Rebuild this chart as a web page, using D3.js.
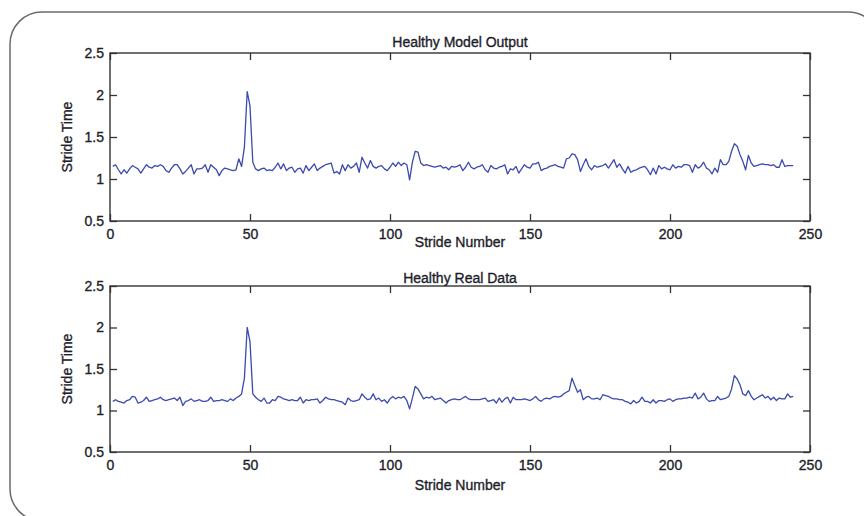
<!DOCTYPE html>
<html>
<head>
<meta charset="utf-8">
<script src="https://cdn.jsdelivr.net/npm/d3@7"></script>
<style>
  body { margin: 0; background: #fff; }
  svg { display: block; font-family: "Liberation Sans", Arial, sans-serif; }
</style>
</head>
<body>
<svg width="864" height="516"></svg>
<script>
// stride time per stride (stride numbers start at 1)
var modelOutput = [
  1.15,1.17,1.11,1.06,1.11,1.07,1.12,1.16,1.14,1.12,
  1.07,1.12,1.17,1.14,1.13,1.16,1.15,1.17,1.15,1.10,
  1.08,1.13,1.17,1.17,1.12,1.06,1.09,1.13,1.17,1.06,
  1.12,1.12,1.13,1.17,1.08,1.17,1.14,1.11,1.04,1.10,
  1.13,1.12,1.11,1.10,1.11,1.24,1.15,1.38,2.04,1.87,
  1.20,1.12,1.10,1.12,1.13,1.10,1.11,1.10,1.14,1.19,
  1.12,1.18,1.10,1.13,1.14,1.08,1.12,1.13,1.07,1.16,
  1.10,1.14,1.18,1.10,1.13,1.15,1.17,1.18,1.19,1.07,
  1.09,1.06,1.17,1.10,1.17,1.13,1.15,1.19,1.08,1.26,
  1.19,1.13,1.22,1.15,1.13,1.15,1.16,1.12,1.10,1.14,
  1.19,1.15,1.20,1.16,1.19,1.17,0.99,1.20,1.33,1.32,
  1.19,1.16,1.17,1.16,1.15,1.14,1.15,1.16,1.13,1.14,
  1.11,1.15,1.14,1.15,1.17,1.10,1.14,1.20,1.14,1.12,
  1.14,1.15,1.17,1.11,1.08,1.16,1.13,1.12,1.14,1.15,
  1.17,1.06,1.12,1.11,1.15,1.07,1.12,1.17,1.14,1.13,
  1.18,1.18,1.20,1.10,1.12,1.13,1.15,1.16,1.17,1.15,
  1.14,1.13,1.24,1.25,1.30,1.29,1.23,1.09,1.17,1.24,
  1.15,1.11,1.16,1.14,1.15,1.16,1.18,1.13,1.18,1.23,
  1.14,1.18,1.12,1.07,1.15,1.08,1.10,1.11,1.13,1.14,
  1.15,1.11,1.05,1.13,1.06,1.16,1.12,1.14,1.12,1.11,
  1.17,1.13,1.15,1.14,1.17,1.17,1.16,1.08,1.17,1.13,
  1.15,1.20,1.13,1.11,1.06,1.13,1.08,1.23,1.17,1.17,
  1.21,1.33,1.42,1.39,1.29,1.21,1.11,1.28,1.19,1.15,
  1.16,1.17,1.18,1.17,1.17,1.16,1.17,1.14,1.14,1.23,
  1.15,1.16,1.16,1.16
];

var realData = [
  1.11,1.13,1.11,1.10,1.09,1.12,1.13,1.17,1.16,1.09,
  1.10,1.12,1.16,1.11,1.12,1.13,1.14,1.16,1.13,1.12,
  1.13,1.14,1.15,1.12,1.16,1.06,1.11,1.12,1.14,1.11,
  1.12,1.13,1.11,1.11,1.12,1.16,1.11,1.12,1.12,1.13,
  1.12,1.11,1.14,1.12,1.15,1.17,1.20,1.39,2.00,1.83,
  1.20,1.16,1.13,1.11,1.15,1.09,1.09,1.13,1.12,1.17,
  1.16,1.14,1.13,1.12,1.13,1.12,1.12,1.16,1.09,1.13,
  1.12,1.13,1.13,1.14,1.09,1.12,1.16,1.14,1.13,1.13,
  1.12,1.11,1.10,1.07,1.15,1.12,1.11,1.12,1.13,1.20,
  1.16,1.13,1.14,1.20,1.13,1.15,1.11,1.13,1.09,1.14,
  1.17,1.14,1.16,1.15,1.17,1.12,1.02,1.15,1.29,1.26,
  1.20,1.14,1.16,1.15,1.17,1.13,1.14,1.15,1.12,1.09,
  1.12,1.13,1.14,1.13,1.13,1.15,1.17,1.14,1.13,1.13,
  1.13,1.13,1.14,1.15,1.11,1.12,1.13,1.09,1.15,1.10,
  1.14,1.16,1.09,1.16,1.13,1.13,1.13,1.14,1.13,1.12,
  1.14,1.17,1.13,1.11,1.14,1.15,1.14,1.16,1.17,1.16,
  1.17,1.20,1.22,1.24,1.39,1.30,1.22,1.25,1.13,1.16,
  1.17,1.14,1.14,1.15,1.13,1.19,1.18,1.17,1.15,1.14,
  1.14,1.13,1.13,1.11,1.10,1.08,1.12,1.09,1.11,1.16,
  1.11,1.11,1.09,1.13,1.09,1.12,1.12,1.11,1.13,1.14,
  1.11,1.13,1.14,1.14,1.15,1.15,1.16,1.15,1.21,1.14,
  1.16,1.21,1.14,1.11,1.12,1.12,1.17,1.13,1.14,1.15,
  1.17,1.26,1.42,1.38,1.31,1.20,1.18,1.24,1.17,1.13,
  1.15,1.17,1.19,1.15,1.17,1.13,1.16,1.12,1.15,1.14,
  1.14,1.20,1.16,1.17
];

var xTicks = [0, 50, 100, 150, 200, 250];
var yTicks = [0.5, 1, 1.5, 2, 2.5];
var titles = ["Healthy Model Output", "Healthy Real Data"];
var xLabel = "Stride Number";
var yLabel = "Stride Time";

var svg = d3.select("svg");

// rounded frame around the figure
svg.append("rect")
    .attr("x", 10).attr("y", 12)
    .attr("width", 870).attr("height", 509)
    .attr("rx", 32).attr("ry", 32)
    .attr("fill", "none")
    .attr("stroke", "#6b6b6b")
    .attr("stroke-width", 1.5);

var panels = [
  {values: modelOutput, title: titles[0], top: 53, bottom: 221, titleY: 47, xlabY: 247},
  {values: realData, title: titles[1], top: 286, bottom: 452, titleY: 283, xlabY: 490}
];

var left = 110, right = 810;
var x = d3.scaleLinear().domain([0, 250]).range([left, right]);

// slightly heavier text, like the scanned figure
function styleText(sel) {
    sel.attr("font-size", 14).attr("fill", "#1e1e2a")
        .attr("stroke", "#1e1e2a").attr("stroke-width", 0.35)
        .attr("font-family", "'Liberation Sans', Arial, sans-serif");
}

panels.forEach(function(p) {
    var y = d3.scaleLinear().domain([0.5, 2.5]).range([p.bottom, p.top]);
    var g = svg.append("g");

    //ticks + labels
    var xAxis = d3.axisBottom(x).tickValues(xTicks).tickSize(-7).tickSizeOuter(0).tickPadding(8);
    var xTop = d3.axisTop(x).tickValues(xTicks).tickSize(-7).tickSizeOuter(0).tickFormat("");
    var yAxis = d3.axisLeft(y).tickValues(yTicks).tickSize(-7).tickSizeOuter(0).tickPadding(6)
        .tickFormat(function(d) { return d3.format("")(d); });
    var yRight = d3.axisRight(y).tickValues(yTicks).tickSize(-7).tickSizeOuter(0).tickFormat("");

    [[xAxis, "translate(0," + p.bottom + ")"],
     [xTop, "translate(0," + p.top + ")"],
     [yAxis, "translate(" + left + ",0)"],
     [yRight, "translate(" + right + ",0)"]].forEach(function(a) {
        var ax = g.append("g").attr("transform", a[1]).call(a[0]);
        ax.select(".domain").remove();
        ax.selectAll("line").attr("stroke", "#333").attr("stroke-width", 1.3);
        ax.selectAll("text").call(styleText);
    });

    g.append("rect")
        .attr("x", left).attr("y", p.top)
        .attr("width", right - left).attr("height", p.bottom - p.top)
        .attr("fill", "none")
        .attr("stroke", "#333")
        .attr("stroke-width", 1.4);

    var line = d3.line()
        .x(function(d, i) { return x(i + 1); })
        .y(function(d) { return y(d); });

    g.append("path")
        .datum(p.values)
        .attr("fill", "none")
        .attr("stroke", "#3b4aaf")
        .attr("stroke-width", 1.3)
        .attr("stroke-linejoin", "round")
        .attr("d", line);

    g.append("text")
        .attr("x", (left + right) / 2).attr("y", p.titleY)
        .attr("text-anchor", "middle")
        .call(styleText)
        .text(p.title);

    g.append("text")
        .attr("x", (left + right) / 2).attr("y", p.xlabY)
        .attr("text-anchor", "middle")
        .call(styleText)
        .text(xLabel);

    g.append("text")
        .attr("transform", "translate(72," + (p.top + p.bottom) / 2 + ") rotate(-90)")
        .attr("text-anchor", "middle")
        .call(styleText)
        .text(yLabel);
});
</script>
</body>
</html>
